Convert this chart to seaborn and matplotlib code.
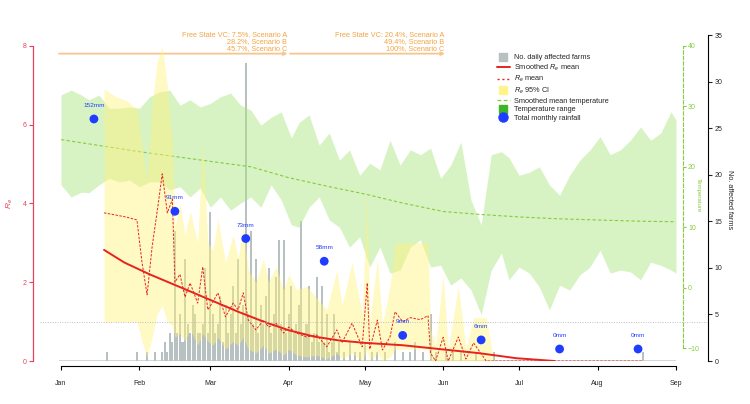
import matplotlib
matplotlib.use('Agg')
import matplotlib.pyplot as plt
import seaborn as sns
from matplotlib.lines import Line2D

# month starts as day of year (non-leap year)
month_days = [0, 31, 59, 90, 120, 151, 181, 212, 243]
month_labels = ['Jan', 'Feb', 'Mar', 'Apr', 'May', 'Jun', 'Jul', 'Aug', 'Sep']

# daily affected farms (days without cases left out)
farm_days = [18, 30, 34, 37, 40, 41, 42, 43, 44, 45,
             46, 47, 48, 49, 50, 51, 52, 53, 54, 55,
             56, 57, 58, 59, 60, 61, 62, 63, 64, 65,
             66, 67, 68, 69, 70, 71, 72, 73, 74, 75,
             76, 77, 78, 79, 80, 81, 82, 83, 84, 85,
             86, 87, 88, 89, 90, 91, 92, 93, 94, 95,
             96, 97, 98, 99, 100, 101, 102, 103, 104, 105,
             106, 107, 108, 109, 110, 112, 114, 116, 118, 120,
             123, 125, 128, 132, 135, 138, 140, 143, 146, 148,
             152, 155, 158, 164, 171, 230]
farm_counts = [1, 1, 1, 1, 1, 2, 1, 3, 2, 14,
               3, 5, 2, 11, 4, 3, 6, 5, 3, 3,
               4, 10, 3, 16, 5, 3, 4, 7, 2, 6,
               3, 5, 8, 3, 11, 4, 6, 32, 5, 14,
               4, 11, 3, 6, 4, 7, 10, 3, 5, 9,
               13, 4, 13, 3, 5, 8, 3, 4, 6, 15,
               3, 4, 8, 2, 3, 9, 2, 8, 2, 5,
               1, 2, 5, 1, 2, 1, 2, 1, 1, 2,
               1, 1, 1, 2, 1, 1, 2, 1, 5, 1,
               1, 1, 1, 1, 1, 1]

# effective reproduction number Re
re_days = [17, 22, 26, 30, 32, 34, 36, 38, 40, 42,
           44, 45, 47, 49, 51, 54, 56, 58, 60, 62,
           65, 68, 70, 72, 74, 77, 80, 82, 85, 88,
           90, 93, 97, 101, 105, 109, 111, 115, 119, 121,
           122, 125, 127, 130, 132, 135, 138, 142, 145, 146,
           148, 151, 153, 157, 160, 163, 168, 171, 230]
re_mean = [3.76, 3.70, 3.65, 3.58, 2.50, 1.68, 2.90, 3.80, 4.75, 3.76,
           4.10, 2.00, 2.20, 1.62, 1.98, 1.47, 2.39, 1.30, 1.50, 1.73,
           1.12, 1.47, 1.30, 1.73, 1.04, 0.79, 1.04, 0.86, 0.96, 0.71,
           0.86, 0.71, 0.61, 0.66, 0.36, 0.79, 0.46, 0.96, 0.36, 1.98,
           0.30, 1.04, 0.28, 0.61, 1.25, 1.00, 1.10, 1.05, 1.15, 0.20,
           0.00, 0.60, 0.00, 0.61, 0.05, 0.46, 0.00, 0.00, 0.00]
re_upper = [6.9, 6.7, 6.6, 6.4, 5.5, 4.6, 6.5, 7.6, 7.97, 7.0,
            5.5, 3.4, 4.0, 3.2, 3.8, 3.0, 5.6, 3.0, 2.8, 3.6,
            2.5, 3.2, 2.6, 3.4, 2.3, 2.0, 2.6, 2.0, 2.4, 1.8,
            2.2, 1.8, 1.9, 1.6, 1.3, 2.3, 1.4, 2.5, 1.2, 4.3,
            1.0, 2.6, 0.9, 1.9, 3.0, 3.0, 3.0, 3.0, 3.0, 0.8,
            0.4, 2.2, 0.3, 1.9, 0.3, 1.1, 1.1, 0.0, 0.0]
re_lower = [1.0, 1.0, 1.0, 1.0, 0.5, 0.1, 0.6, 1.2, 1.4, 1.0,
            0.9, 0.6, 0.7, 0.5, 0.8, 0.4, 0.7, 0.5, 0.4, 0.6,
            0.3, 0.5, 0.4, 0.6, 0.3, 0.2, 0.4, 0.2, 0.3, 0.15,
            0.3, 0.15, 0.1, 0.15, 0.05, 0.2, 0.05, 0.2, 0.0, 0.3,
            0.0, 0.2, 0.0, 0.1, 0.3, 0.3, 0.3, 0.3, 0.3, 0.0,
            0.0, 0.0, 0.0, 0.0, 0.0, 0.0, 0.0, 0.0, 0.0]
smooth_days = [17, 25, 35, 45, 59, 70, 80, 90, 100, 110, 120, 135, 150, 165, 180, 195]
smooth_re = [2.82, 2.5, 2.2, 1.93, 1.55, 1.25, 1.0, 0.78, 0.62, 0.52, 0.46, 0.40, 0.30, 0.2, 0.07, 0.0]

# daily temperature range
temp_days = [0, 4, 8, 11, 15, 19, 23, 27, 31, 35,
             39, 43, 47, 51, 55, 59, 63, 67, 71, 75,
             79, 83, 87, 91, 94, 98, 102, 106, 110, 114,
             118, 122, 126, 130, 134, 138, 142, 146, 150, 154,
             158, 162, 166, 170, 174, 177, 181, 185, 189, 193,
             197, 201, 205, 209, 213, 217, 221, 225, 229, 233,
             237, 241, 243]
temp_max = [31.9, 32.7, 31.9, 31.1, 31.9, 29.7, 29.7, 29.9, 29.7, 31.6,
            32.4, 32.7, 30.2, 31.1, 29.9, 30.5, 31.6, 32.2, 30.2, 29.4,
            26.9, 28.2, 29.1, 24.8, 27.3, 28.6, 23.6, 25.6, 21.1, 22.8,
            18.6, 20.6, 19.5, 24.4, 20.3, 22.8, 22.0, 23.1, 18.1, 20.3,
            24.1, 14.5, 10.4, 22.0, 22.5, 21.5, 18.6, 19.1, 20.0, 17.0,
            15.3, 18.6, 21.1, 22.8, 25.0, 22.0, 22.8, 24.4, 26.6, 24.4,
            25.6, 29.1, 27.8]
temp_min = [17.0, 15.0, 15.8, 15.7, 17.0, 18.1, 17.5, 17.8, 16.7, 17.5,
            17.5, 16.2, 16.7, 15.0, 16.5, 13.3, 15.0, 12.8, 14.0, 15.0,
            13.3, 17.0, 14.5, 10.4, 10.0, 13.3, 15.0, 11.2, 10.0, 6.7,
            8.4, 3.4, 6.7, 2.4, 2.9, 6.7, 7.9, 3.4, 3.7, 0.4,
            1.6, -0.4, -4.5, 2.9, 5.7, 1.3, 3.4, 2.4, 0.1, -3.7,
            0.4, -0.4, 2.1, 3.4, 6.2, 2.4, 2.9, 2.6, 1.3, 4.2,
            3.7, 2.9, 2.4]
tmean_days = [0, 14, 31, 45, 59, 75, 90, 105, 120, 135, 151, 166, 181, 196, 212, 228, 243]
tmean = [24.5, 23.6, 22.5, 21.7, 20.9, 20.0, 18.2, 16.8, 15.5, 14.0, 12.6, 12.1, 11.7, 11.4, 11.2, 11.0, 10.9]

# total monthly rainfall
rain_days = [13, 45, 73, 104, 135, 166, 197, 228]
rain_mm = [152, 91, 73, 58, 9, 6, 0, 0]

# vaccination coverage scenarios
vc_text_1 = 'Free State VC: 7.5%, Scenario A\n28.2%, Scenario B\n45.7%, Scenario C'
vc_text_2 = 'Free State VC: 20.4%, Scenario A\n49.4%, Scenario B\n100%, Scenario C'

sns.set_style('white')
plt.rcParams['font.family'] = ['Liberation Sans', 'DejaVu Sans']
plt.rcParams['mathtext.fontset'] = 'custom'
plt.rcParams['mathtext.rm'] = 'Liberation Sans'
plt.rcParams['mathtext.it'] = 'Liberation Sans:italic'

RED = '#e8231e'
AXRED = '#e8405f'
GREEN = '#86cc3f'
GREY = '#b7c1c2'
BLUE = '#1f3cff'
ORANGE = '#f2a443'

fig = plt.figure(figsize=(7.5, 4.04), dpi=100)
ax = fig.add_axes([59 / 750, 43 / 404, 617 / 750, 326 / 404])
ax_t = ax.twinx()
ax_r = ax.twinx()
ax_p = ax.twinx()

# bars: daily affected farms
sns.histplot(x=farm_days, weights=farm_counts, discrete=True, shrink=0.8,
             color=GREY, alpha=1, linewidth=0, ax=ax)
ax.axhline(0, color='#c9d0d0', lw=1.2, zorder=0)

# temperature range and smoothed mean
ax_t.fill_between(temp_days, temp_min, temp_max, color='#a8e67c', alpha=0.45, lw=0)
sns.lineplot(x=tmean_days, y=tmean, ax=ax_t, color=GREEN, lw=0.8,
             linestyle=(0, (3, 2)), estimator=None)

# Re band and lines
ax_r.fill_between(re_days, re_lower, re_upper, color='#fff27a', alpha=0.45, lw=0)
sns.lineplot(x=re_days, y=re_mean, ax=ax_r, color=RED, lw=0.7,
             linestyle=(0, (2.5, 1.5)), estimator=None)
sns.lineplot(x=smooth_days, y=smooth_re, ax=ax_r, color=RED, lw=1.4, estimator=None)
ax_r.plot([-8.3, 255.2], [1, 1], color='#c0c0c0', lw=0.7, ls=(0, (1, 1.5)), clip_on=False)

# rainfall
sns.scatterplot(x=rain_days, y=rain_mm, ax=ax_p, color=BLUE, s=40, edgecolor='none', zorder=5)
for d, mm in zip(rain_days, rain_mm):
    ax_p.annotate(f'{mm}mm', (d, mm), xytext=(0, 9.7), textcoords='offset points',
                  ha='center', va='center', fontsize=4.6, color=BLUE)

# limits
ax.set_xlim(-0.8, 243)
ax.set_ylim(0, 35)
ax_t.set_ylim(-12.15, 41.82)
ax_r.set_ylim(0, 8.274)
ax_p.set_ylim(-7.93, 207.5)

for a in (ax, ax_t, ax_r, ax_p):
    for s in a.spines.values():
        s.set_visible(False)
    a.set_ylabel('')
    a.set_xlabel('')
    a.grid(False)

# x axis
ax.spines['bottom'].set_visible(True)
ax.spines['bottom'].set_position(('outward', 3.6))
ax.spines['bottom'].set_bounds(0, 243)
ax.spines['bottom'].set_color('black')
ax.spines['bottom'].set_linewidth(0.8)
ax.set_xticks(month_days)
ax.set_xticklabels(month_labels)
ax.tick_params(axis='x', bottom=True, length=2.9, width=0.8, pad=7, labelsize=5, color='black')

# farms axis (right, outer)
ax.yaxis.tick_right()
ax.yaxis.set_label_position('right')
ax.spines['right'].set_visible(True)
ax.spines['right'].set_position(('outward', 23))
ax.spines['right'].set_bounds(0, 35)
ax.spines['right'].set_color('black')
ax.spines['right'].set_linewidth(0.8)
ax.set_yticks(range(0, 36, 5))
ax.tick_params(axis='y', right=True, left=False, labelright=True, labelleft=False,
               length=2.9, width=0.8, pad=2, labelsize=5)
ax.set_ylabel('No. affected farms', rotation=270, fontsize=5.3, va='center')
ax.yaxis.set_label_coords(1.086, 0.494)

# temperature axis (right, inner)
ax_t.spines['right'].set_visible(True)
ax_t.spines['right'].set_position(('outward', 5))
ax_t.spines['right'].set_bounds(-10, 40)
ax_t.spines['right'].set_color(GREEN)
ax_t.spines['right'].set_linestyle((0, (3, 2)))
ax_t.spines['right'].set_linewidth(0.8)
ax_t.set_yticks(range(-10, 41, 10))
ax_t.tick_params(axis='y', right=True, left=False, length=2.2, width=0.8, pad=1.5,
                 labelsize=5, color=GREEN, labelcolor=GREEN)
ax_t.set_ylabel('Temperature', rotation=270, fontsize=4.4, color=GREEN, va='center')
ax_t.yaxis.set_label_coords(1.0357, 0.51)

# Re axis (left)
ax_r.yaxis.tick_left()
ax_r.yaxis.set_label_position('left')
ax_r.spines['left'].set_visible(True)
ax_r.spines['left'].set_position(('outward', 18.7))
ax_r.spines['left'].set_bounds(0, 8)
ax_r.spines['left'].set_color(AXRED)
ax_r.spines['left'].set_linewidth(0.9)
ax_r.set_yticks(range(0, 9, 2))
ax_r.tick_params(axis='y', left=True, right=False, labelleft=True, labelright=False,
                 length=2.9, width=0.8, pad=1.5, labelsize=5, color=AXRED, labelcolor=AXRED)
ax_r.set_ylabel('$R_e$', fontsize=6, color=AXRED)
ax_r.yaxis.set_label_coords(-0.072, 0.482)

ax_p.set_yticks([])

# vaccination coverage arrows
arrow = dict(arrowstyle='->', color='#f7c590', lw=1.3, shrinkA=0, shrinkB=0, mutation_scale=5)
ax.annotate('', xy=(89.5, 33.0), xytext=(-0.8, 33.0), arrowprops=arrow, annotation_clip=False)
ax.annotate('', xy=(151.7, 33.0), xytext=(90.5, 33.0), arrowprops=arrow, annotation_clip=False)
ax.text(89.3, 33.15, vc_text_1, ha='right', va='bottom', fontsize=5.2, color=ORANGE,
        linespacing=1.0, multialignment='right', clip_on=False)
ax.text(151.5, 33.15, vc_text_2, ha='right', va='bottom', fontsize=5.2, color=ORANGE,
        linespacing=1.0, multialignment='right', clip_on=False)

# legend
handles = [
    Line2D([], [], marker='s', ms=6, color=GREY, ls='none'),
    Line2D([], [], color=RED, lw=1.4),
    Line2D([], [], color=RED, lw=1.0, ls=(0, (1.5, 2))),
    Line2D([], [], marker='s', ms=6, color='#fff38a', ls='none'),
    Line2D([], [], color=GREEN, lw=0.9, ls=(0, (3, 2))),
    Line2D([], [], marker='s', ms=6, color='#3db526', ls='none'),
    Line2D([], [], marker='o', ms=6.5, color=BLUE, ls='none'),
]
labels = ['No. daily affected farms', r'Smoothed $R_e$ mean', r'$R_e$ mean', r'$R_e$ 95% CI',
          'Smoothed mean temperature', 'Temperature range', 'Total monthly rainfall']
fig.legend(handles, labels, loc='upper left', bbox_to_anchor=(497 / 750, 1 - 54 / 404),
           frameon=False, fontsize=5.3, handlelength=1.7, handletextpad=0.6,
           labelspacing=0.2, borderpad=0, borderaxespad=0)

fig.savefig('out.png', dpi=100)
